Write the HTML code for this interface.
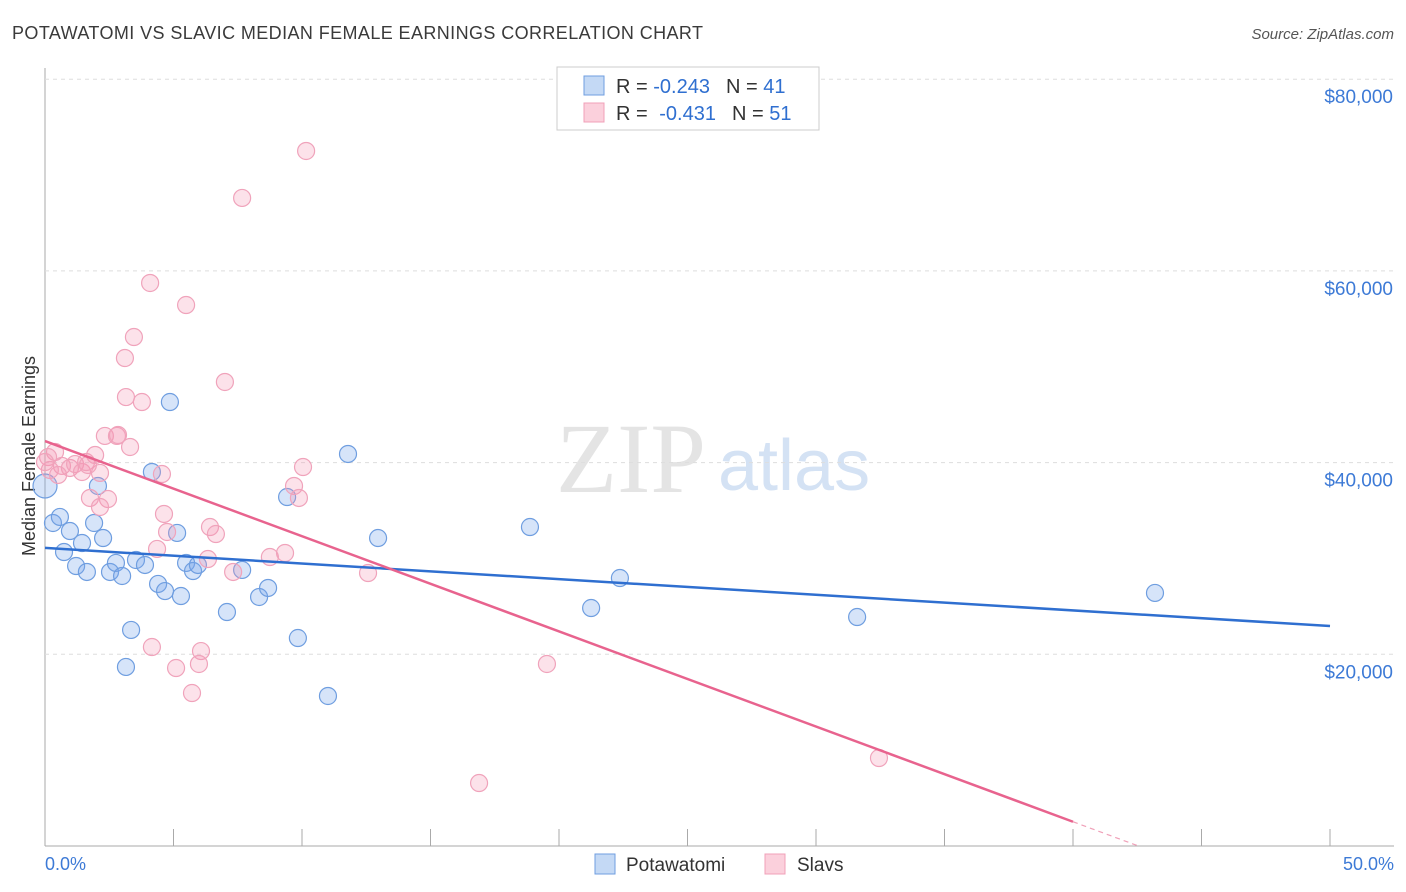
<!DOCTYPE html>
<html><head><meta charset="utf-8"><style>
body{margin:0;background:#fff;font-family:"Liberation Sans",sans-serif;}
svg{display:block}
</style></head><body>
<svg id="c" width="1406" height="892">
<text x="12" y="39" font-size="18" fill="#3a3a3a" textLength="691">POTAWATOMI VS SLAVIC MEDIAN FEMALE EARNINGS CORRELATION CHART</text>
<text x="1394" y="39" font-size="15" fill="#555" font-style="italic" text-anchor="end">Source: ZipAtlas.com</text>
<text x="556" y="492" font-size="100" fill="#e4e4e4" font-family="Liberation Serif,serif">ZIP</text>
<text x="718" y="490" font-size="72" fill="#d4e2f4">atlas</text>
<text transform="translate(35,456) rotate(-90)" font-size="18" fill="#333" text-anchor="middle">Median Female Earnings</text>
<g id="grid"></g><g id="pts"></g><g id="lines"></g>
<rect x="557" y="67" width="262" height="63" fill="#fff" stroke="#ccc"/>
<rect x="584" y="76" width="20" height="19" fill="#c4d9f5" stroke="#6f9ee0"/>
<rect x="584" y="103" width="20" height="19" fill="#fbd0dc" stroke="#f0a0b8"/>
<text x="616" y="93" font-size="20" fill="#333">R = <tspan fill="#2f6fd0">-0.243</tspan><tspan dx="16">N = </tspan><tspan fill="#2f6fd0">41</tspan></text>
<text x="616" y="120" font-size="20" fill="#333">R = <tspan dx="6" fill="#2f6fd0">-0.431</tspan><tspan dx="16">N = </tspan><tspan fill="#2f6fd0">51</tspan></text>
<text x="45" y="870" font-size="18" fill="#3d7ad6">0.0%</text>
<text x="1394" y="870" font-size="18" fill="#3d7ad6" text-anchor="end">50.0%</text>
<rect x="595" y="854" width="20" height="20" fill="#c4d9f5" stroke="#6f9ee0"/>
<text x="626" y="871" font-size="19" fill="#333">Potawatomi</text>
<rect x="765" y="854" width="20" height="20" fill="#fbd0dc" stroke="#f0a0b8"/>
<text x="797" y="871" font-size="19" fill="#333">Slavs</text>
</svg>
<script>
const yTicks=[20000,40000,60000,80000];
const yTickLabels=["$20,000","$40,000","$60,000","$80,000"];
const blueX=[0.0,0.31,0.58,0.74,0.97,1.21,1.44,1.63,1.91,2.06,2.26,2.53,2.76,3.0,3.15,3.35,3.54,3.89,4.16,4.40,4.67,4.86,5.14,5.29,5.49,5.76,5.95,7.08,7.67,8.33,8.68,9.42,9.84,11.01,11.79,12.96,18.87,21.25,22.37,31.60,43.19];
const blueY=[37560,33700,34330,30670,32860,29210,31610,28590,33700,37560,32130,28590,29530,28170,18680,22540,29840,29320,39020,27340,26600,46320,32660,26080,29530,28690,29320,24410,28800,25980,26920,36410,21700,15650,40900,32130,33280,24830,27960,23890,26400];
const pinkX=[10.16,7.67,4.09,5.49,3.46,3.11,7.0,3.15,3.77,2.33,2.80,3.31,0.39,0.12,0.66,0.97,1.17,1.44,1.60,1.95,4.55,10.04,9.69,9.88,1.75,2.45,2.14,4.63,6.42,4.75,6.65,4.36,6.34,8.75,9.34,7.32,12.57,4.16,6.07,5.10,5.99,19.53,5.72,16.89,32.45,0.19,0.51,2.14,1.67,0.0,2.84];
const pinkY=[72510,67610,58740,56440,53100,50910,48410,46840,46320,42780,42780,41630,41110,40580,39650,39440,39850,39020,40060,40790,38810,39540,37560,36310,36310,36200,35370,34640,33280,32760,32550,30990,29940,30150,30570,28590,28480,20760,20340,18570,18990,18990,15960,6570,9180,39230,38710,38920,39750,40060,42880];
const blueTrend=[31100,22950];
const pinkTrend=[42250,-7400];
const pinkSolidEnd=40;
const X0=45,X1=1330,Y0=846,PX=191.7/20000;
const sx=v=>X0+(v/50)*(X1-X0), sy=v=>Y0-v*PX;
const NS="http://www.w3.org/2000/svg";
function mk(t,a,p){const e=document.createElementNS(NS,t);for(const k in a)e.setAttribute(k,a[k]);p.appendChild(e);return e;}
const g=document.getElementById('grid'),P=document.getElementById('pts'),L=document.getElementById('lines');
let ax=mk('line',{x1:45,y1:68,x2:45,y2:846,stroke:'#aaa'},g);


let bx=mk('line',{x1:45,y1:846,x2:1394,y2:846,stroke:'#aaa'},g);


for(let i=0;i<=10;i++){const x=sx(i*5);const t=mk('line',{x1:x,y1:829,x2:x,y2:846,stroke:'#aaa'},g);

}
yTicks.forEach((v,i)=>{const y=sy(v);const l=mk('line',{x1:45,y1:y,x2:1394,y2:y,stroke:'#ddd','stroke-dasharray':'4,4'},g);


const t=mk('text',{x:1393,y:y+24,'font-size':19,fill:'#3d7ad6','text-anchor':'end'},g);t.textContent=yTickLabels[i];

});
blueX.forEach((v,i)=>{const c=mk('circle',{cx:sx(v),cy:sy(blueY[i]),r:i==0?12:8.5,fill:'rgba(120,165,235,0.3)',stroke:'#6f9ee0','stroke-width':1.2},P);

});
pinkX.forEach((v,i)=>{const c=mk('circle',{cx:sx(v),cy:sy(pinkY[i]),r:8.5,fill:'rgba(245,150,180,0.28)',stroke:'#f0a3bb','stroke-width':1.2},P);

});
const ty=(tr,x)=>tr[0]+(tr[1]-tr[0])*x/50;
let bl=mk('line',{x1:sx(0),y1:sy(ty(blueTrend,0)),x2:sx(50),y2:sy(ty(blueTrend,50)),stroke:'#2f6fd0','stroke-width':2.5},L);


let pl=mk('line',{x1:sx(0),y1:sy(ty(pinkTrend,0)),x2:sx(pinkSolidEnd),y2:sy(ty(pinkTrend,pinkSolidEnd)),stroke:'#e8638e','stroke-width':2.5},L);


const zx=-pinkTrend[0]*50/(pinkTrend[1]-pinkTrend[0]);
let pd=mk('line',{x1:sx(pinkSolidEnd),y1:sy(ty(pinkTrend,pinkSolidEnd)),x2:sx(zx),y2:sy(0),stroke:'#f0a0b8','stroke-width':1.2,'stroke-dasharray':'5,4'},L);


</script>
</body></html>
